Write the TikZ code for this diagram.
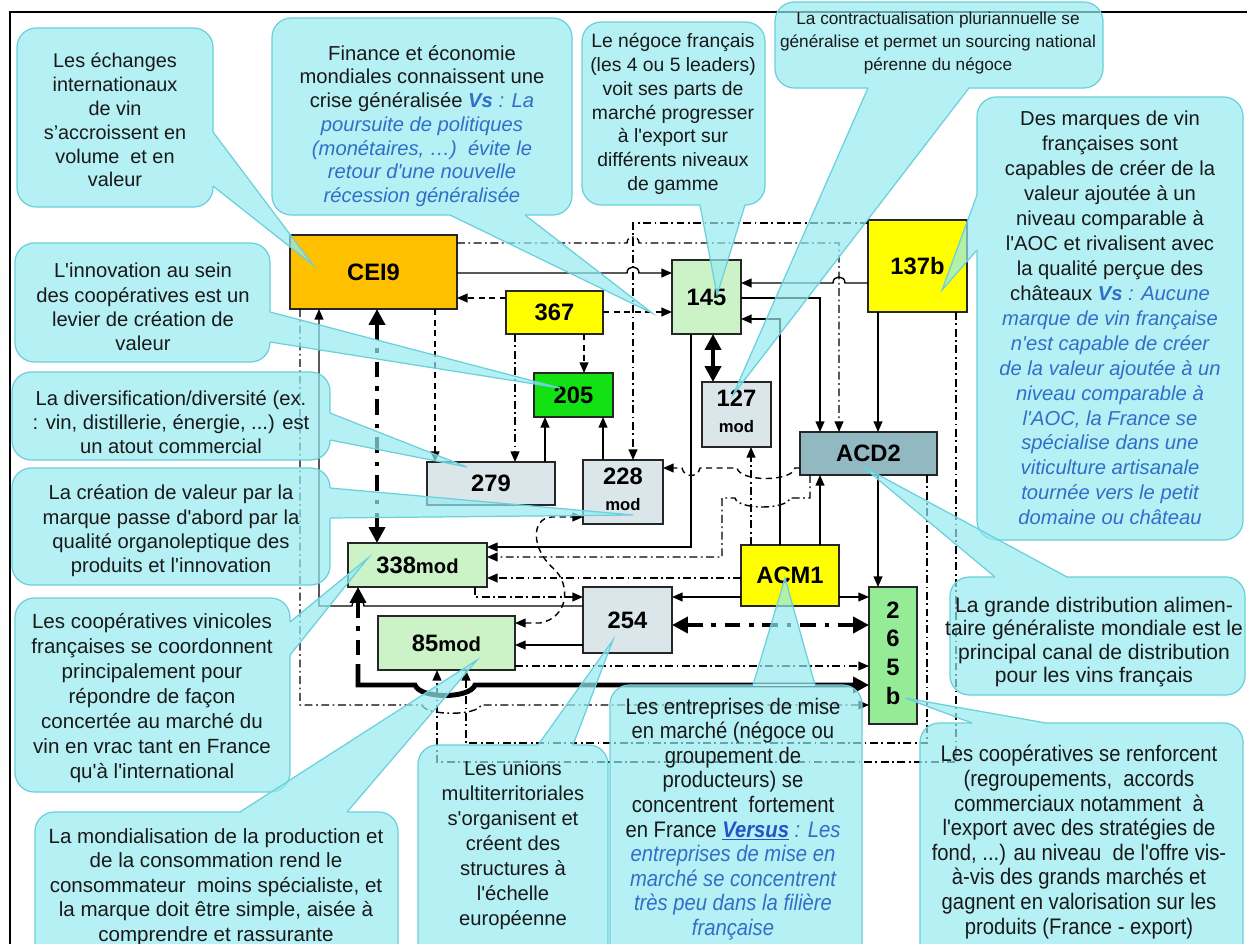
\documentclass[tikz,border=0pt]{standalone}
\usepackage{fontspec}
\setmainfont{Liberation Sans}[Ligatures=TeXOff]
\newfontfamily\narrowfont{Liberation Sans}[FakeStretch=0.9]
\usetikzlibrary{arrows.meta,calc}
\definecolor{orangeb}{RGB}{255,192,0}
\definecolor{yellowb}{RGB}{255,255,0}
\definecolor{greenb}{RGB}{20,225,20}
\definecolor{paleg}{RGB}{204,242,200}
\definecolor{midg}{RGB}{150,235,150}
\definecolor{grayb}{RGB}{218,230,234}
\definecolor{tealb}{RGB}{146,184,194}
\definecolor{cfillc}{RGB}{150,235,242}
\definecolor{ccomp}{RGB}{181,241,246}
\definecolor{cline}{RGB}{105,208,220}
\definecolor{txtblue}{RGB}{50,110,200}
\definecolor{vsblue}{RGB}{35,85,195}
\newcommand\cbit[1]{{\color{txtblue}\itshape #1}}
\newcommand\cbvs[1]{{\color{txtblue}\bfseries\itshape #1}}
\newcommand\cbvsu[1]{{\color{vsblue}\bfseries\itshape\underline{#1}}}
\tikzset{
  bx/.style={draw=black!85, line width=0.8pt, inner sep=0pt, outer sep=0pt,
    font=\bfseries\fontsize{13.5}{15}\selectfont, align=center},
  ln/.style={line width=0.8pt, draw=black},
  arr/.style={ln, -{Triangle[length=6pt,width=5pt]}},
  darr/.style={ln, {Triangle[length=6pt,width=5pt]}-{Triangle[length=6pt,width=5pt]}},
  dsh/.style={dash pattern=on 3.5pt off 2.5pt},
  dd/.style={dash pattern=on 4.5pt off 2pt on 1pt off 2pt},
  thk/.style={line width=2.8pt, {Triangle[length=9pt,width=9pt]}-{Triangle[length=9pt,width=9pt]}},
  thkdd/.style={dash pattern=on 9pt off 5pt on 2.5pt off 5pt},
  ctext/.style={align=center, inner sep=0pt, text=black!90}
}
% #1 corner1, #2 corner2, #3 base1, #4 base2, #5 tip, #6 name, #7 text pos, #8 font, #9 text
\newcommand\callout[9]{%
  \fill[cfillc, fill opacity=0.7] (#3) -- (#5) -- (#4) -- cycle;
  \fill[cfillc, fill opacity=0.7, rounded corners=11pt] (#1) rectangle (#2);
  \draw[cline, line width=0.7pt, rounded corners=11pt] (#1) rectangle (#2);
  \draw[ccomp, line width=1.3pt] (#3) -- (#4);
  \draw[cline, line width=0.7pt] (#3) -- (#5) -- (#4);
  \node[ctext, font=#8] (#6) at (#7) {#9};
}
\begin{document}
\begin{tikzpicture}[x=0.02cm,y=-0.02cm]
\useasboundingbox (0,0) rectangle (1247,943);
\fill[white] (0,0) rectangle (1247,943);
\draw[line width=1.3pt] (10,975) -- (10,12) -- (1275,12);

% ---------- boxes ----------
\node[bx, fill=orangeb, minimum width=3.34cm, minimum height=1.48cm] (cei) at (373.5,272) {CEI9};
\node[bx, fill=yellowb, minimum width=1.94cm, minimum height=0.86cm] (n367) at (554.5,312.5) {367};
\node[bx, fill=greenb, minimum width=1.58cm, minimum height=0.88cm] (n205) at (573.5,395) {205};
\node[bx, fill=paleg, minimum width=1.38cm, minimum height=1.48cm] (n145) at (706.5,297) {145};
\node[bx, fill=yellowb, minimum width=1.98cm, minimum height=1.84cm] (n137) at (917.5,266) {137b};
\node[bx, fill=grayb, minimum width=1.38cm, minimum height=1.30cm] (n127) at (736.5,414.5)
  {\begin{tabular}{@{}c@{}}127\\{\fontsize{9.5}{11}\selectfont mod}\end{tabular}};
\node[bx, fill=tealb, minimum width=2.74cm, minimum height=0.86cm] (acd) at (868.5,453.5) {ACD2};
\node[bx, fill=grayb, minimum width=2.56cm, minimum height=0.86cm] (n279) at (491,483.5) {279};
\node[bx, fill=grayb, minimum width=1.60cm, minimum height=1.28cm] (n228) at (623,492)
  {\begin{tabular}{@{}c@{}}228\\{\fontsize{9.5}{11}\selectfont mod}\end{tabular}};
\node[bx, fill=paleg, minimum width=2.78cm, minimum height=0.88cm] (n338) at (417.5,565)
  {338{\fontsize{11.5}{13}\selectfont mod}};
\node[bx, fill=grayb, minimum width=1.78cm, minimum height=1.32cm] (n254) at (627.5,620) {254};
\node[bx, fill=paleg, minimum width=2.74cm, minimum height=1.08cm] (n85) at (446.5,643)
  {85{\fontsize{11.5}{13}\selectfont mod}};
\node[bx, fill=yellowb, minimum width=1.96cm, minimum height=1.22cm] (acm) at (790,575.5) {ACM1};
\node[bx, fill=midg, minimum width=0.96cm, minimum height=2.74cm,
  font=\bfseries\fontsize{13.5}{16.3}\selectfont] (n265) at (893,655.5)
  {\begin{tabular}{@{}c@{}}2\\6\\5\\b\end{tabular}};

% ---------- solid connectors ----------
\draw[arr] (cei.east |- 0,273) -- (627,273) .. controls (627,265) and (639,265) .. (639,273) -- (n145.west |- 0,273);
\draw[arr] (n137.west |- 0,283) -- (845,283) .. controls (845,275) and (833,275) .. (833,283) -- (n145.east |- 0,283);
\draw[arr] (n145.east |- 0,298) -- (820,298) -- (820,0 |- acd.north);
\draw[arr] (878,0 |- n137.south) -- (878,0 |- acd.north);
\draw[arr] (878,0 |- acd.south) -- (878,0 |- n265.north);
\draw[arr] (820,0 |- acm.north) -- (820,0 |- acd.south);
\draw[arr] (780,0 |- acm.north) -- (780,319) -- (n145.east |- 0,319);
\draw[arr] (acm.west |- 0,597) -- (n254.east |- 0,597);
\draw[arr] (acm.east |- 0,597) -- (n265.west |- 0,597);
\draw[arr] (691,0 |- n145.south) -- (691,547) -- (n338.east |- 0,547);
\draw[arr] (545,0 |- n279.north) -- (545,0 |- n205.south);
\draw[arr] (603,0 |- n228.north) -- (603,0 |- n205.south);
\draw[arr] (n254.west |- 0,606) -- (364,606) .. controls (364,598) and (352,598) .. (352,606) -- (319,606) -- (319,0 |- cei.south);
\draw[arr] (n254.west |- 0,645) -- (n85.east |- 0,645);

% ---------- dashed connectors ----------
\draw[arr,dsh] (n367.west |- 0,298) -- (cei.east |- 0,298);
\draw[arr,dsh] (n367.east |- 0,312) -- (n145.west |- 0,312);
\draw[arr,dsh] (584,0 |- n367.south) -- (584,0 |- n205.north);
\draw[arr,dsh] (435,0 |- cei.south) -- (435,0 |- n279.north);
\draw[arr,dsh] (acd.west |- 0,468) -- (795,468) .. controls (792,482) and (740,482) .. (737,468) -- (700,468) .. controls (698,478) and (684,478) .. (682,468) -- (n228.east |- 0,468);
\draw[darr,dsh] (n85.east |- 0,623) -- (540,623) .. controls (568,618) and (572,585) .. (553,568) .. controls (532,550) and (530,518) .. (552,517) -- (n228.west |- 0,517);

% ---------- dash-dot connectors ----------
\draw[arr,dd] (cei.east |- 0,243) -- (627,243) .. controls (627,235) and (639,235) .. (639,243) -- (839,243) -- (839,0 |- acd.north);
\draw[arr,dd] (n137.west |- 0,223) -- (633,223) -- (633,0 |- n228.north);
\draw[arr,dd] (515,0 |- n367.south) -- (515,0 |- n279.north);
\draw[arr,dd] (751,0 |- acm.north) -- (751,0 |- n127.south);
\draw[arr,dd] (acm.west |- 0,578) -- (n338.east |- 0,578);
\draw[arr,dd] (810,0 |- acd.south) -- (810,498) -- (790,498) .. controls (787,510) and (738,510) .. (735,498) -- (722,498) -- (722,557) -- (n338.east |- 0,557);
\draw[arr,dd] (475,0 |- n338.south) -- (475,597) -- (n254.west |- 0,597);
\draw[arr,dd] (n85.east |- 0,666) -- (n265.west |- 0,666);
\draw[arr,dd] (300,0 |- cei.south) -- (300,705) -- (422,705) .. controls (426,716) and (477,716) .. (481,705) -- (n265.west |- 0,705);
\draw[arr,dd] (927,0 |- acd.south) -- (927,743) -- (466,743) -- (466,0 |- n85.south);
\draw[arr,dd] (956,0 |- n137.south) -- (956,762) -- (437,762) -- (437,0 |- n85.south);

% ---------- thick connectors ----------
\draw[thk,thkdd] (377,0 |- cei.south) -- (377,0 |- n338.north);
\draw[thk] (713,0 |- n145.south) -- (713,0 |- n127.north);
\draw[thk,thkdd] (n254.east |- 0,625) -- (n265.west |- 0,625);
\draw[line width=2.8pt, thkdd, {Triangle[length=9pt,width=9pt]}-] (358,0 |- n338.south) -- (358,668);
\draw[line width=2.8pt, -{Triangle[length=9pt,width=9pt]}] (358,664) -- (358,685) -- (415,685) .. controls (420,699) and (470,699) .. (475,685) -- (n265.west |- 0,685);

% ---------- callouts ----------
\callout{17,28}{213,207}{213,132}{213,186}{313,265}{tA}{115,120}{\fontsize{11.3}{13.6}\selectfont}
  {Les échanges\\internationaux\\de vin\\s’accroissent en\\volume\ \ et en\\valeur}
\callout{272,18}{572,215}{450,215}{525,215}{652,313}{tB}{422,126}{\fontsize{11.5}{13.5}\selectfont}
  {Finance et économie\\mondiales connaissent une\\crise généralisée \cbvs{Vs}\cbit{ : La}\\\cbit{poursuite de politiques}\\\cbit{(monétaires, …)\ \ évite le}\\\cbit{retour d'une nouvelle}\\\cbit{récession généralisée}}
\callout{582,22}{765,205}{700,205}{745,205}{717,295}{tC}{673,114}{\fontsize{11}{13.5}\selectfont}
  {Le négoce français\\(les 4 ou 5 leaders)\\voit ses parts de\\marché progresser\\à l'export sur\\différents niveaux\\de gamme}
\callout{775,2}{1103,88}{868,88}{969,88}{733,395}{tD}{938,43}{\fontsize{9.8}{13}\selectfont}
  {La contractualisation pluriannuelle se\\généralise et permet un sourcing national\\pérenne du négoce}
\callout{977,97}{1243,540}{977,195}{977,250}{942,290}{tE}{1110,318}{\fontsize{11.5}{14.2}\selectfont}
  {Des marques de vin\\françaises sont\\capables de créer de la\\valeur ajoutée à un\\niveau comparable à\\l'AOC et rivalisent avec\\la qualité perçue des\\châteaux \cbvs{Vs}\cbit{ : Aucune}\\\cbit{marque de vin française}\\\cbit{n'est capable de créer}\\\cbit{de la valeur ajoutée à un}\\\cbit{niveau comparable à}\\\cbit{l'AOC, la France se}\\\cbit{spécialise dans une}\\\cbit{viticulture artisanale}\\\cbit{tournée vers le petit}\\\cbit{domaine ou château}}
\callout{15,243}{270,362}{270,312}{270,342}{560,388}{tF}{143,307}{\fontsize{11.5}{13.8}\selectfont}
  {L'innovation au sein\\des coopératives est un\\levier de création de\\valeur}
\callout{12,372}{330,460}{330,413}{330,440}{467,467}{tG}{171,422}{\fontsize{11.5}{13.8}\selectfont}
  {La diversification/diversité (ex.\\: vin, distillerie, énergie, ...) est\\un atout commercial}
\callout{12,468}{330,585}{330,488}{330,518}{633,515}{tH}{171,531}{\fontsize{11.5}{13.8}\selectfont}
  {La création de valeur par la\\marque passe d'abord par la\\qualité organoleptique des\\produits et l'innovation}
\callout{15,598}{290,792}{290,622}{290,655}{368,558}{tI}{152,698}{\fontsize{11.7}{14.2}\selectfont}
  {Les coopératives vinicoles\\françaises se coordonnent\\principalement pour\\répondre de façon\\concertée au marché du\\vin en vrac tant en France\\qu'à l'international}
\callout{35,812}{398,965}{240,812}{347,812}{477,660}{tJ}{216,887}{\fontsize{11.7}{13.9}\selectfont}
  {La mondialisation de la production et\\de la consommation rend le\\consommateur\ \ moins spécialiste, et\\la marque doit être simple, aisée à\\comprendre et rassurante}
\callout{418,745}{608,965}{538,745}{573,745}{613,640}{tK}{513,845}{\fontsize{11.5}{14.2}\selectfont}
  {Les unions\\multiterritoriales\\s'organisent et\\créent des\\structures à\\l'échelle\\européenne}
\callout{610,685}{862,965}{753,685}{815,685}{785,578}{tL}{733,819}{\narrowfont\fontsize{12.8}{14}\selectfont}
  {Les entreprises de mise\\en marché (négoce ou\\groupement de\\producteurs) se\\concentrent\ \ fortement\\en France \cbvsu{Versus}\cbit{ : Les}\\\cbit{entreprises de mise en}\\\cbit{marché se concentrent}\\\cbit{très peu dans la filière}\\\cbit{française}}
\callout{950,577}{1245,695}{995,577}{1067,577}{862,466}{tM}{1094,642}{\fontsize{12}{13.3}\selectfont}
  {La grande distribution alimen-\\taire généraliste mondiale est le\\principal canal de distribution\\pour les vins français}
\callout{920,723}{1243,965}{972,723}{1046,723}{905,698}{tN}{1079,842}{\narrowfont\fontsize{12.8}{14}\selectfont}
  {Les coopératives se renforcent\\(regroupements,\ \ accords\\commerciaux notamment\ \ à\\l'export avec des stratégies de\\fond, ...) au niveau\ \ de l'offre vis-\\à-vis des grands marchés et\\gagnent en valorisation sur les\\produits (France - export)}
\end{tikzpicture}
\end{document}
